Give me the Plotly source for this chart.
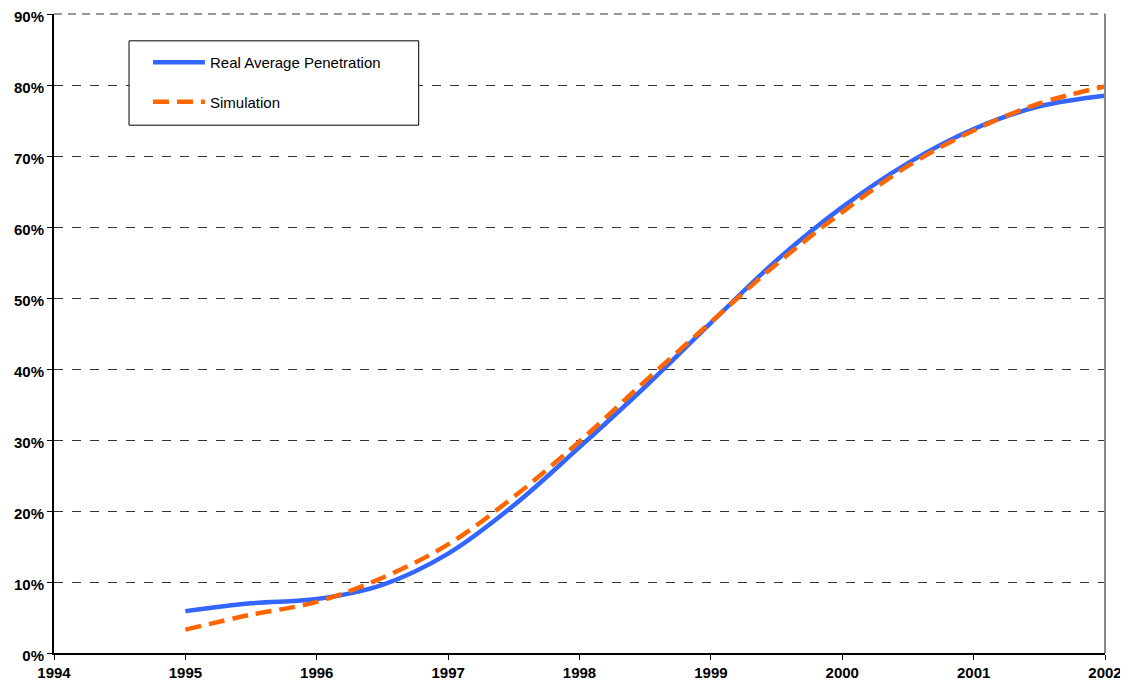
import plotly.graph_objects as go

years = [1995.0, 1995.5, 1996.0, 1996.5, 1997.0, 1997.5, 1998.0, 1998.5,
         1999.0, 1999.5, 2000.0, 2000.5, 2001.0, 2001.5, 2002.0]
real_avg = [5.9, 7.0, 7.6, 9.6, 14.0, 20.8, 29.0, 37.5,
            46.5, 55.3, 62.8, 69.0, 73.8, 77.0, 78.5]
simulation = [3.3, 5.4, 7.2, 10.6, 15.3, 22.0, 29.8, 38.3,
              46.6, 54.8, 62.1, 68.6, 73.6, 77.4, 79.8]

x_ticks = list(range(1994, 2003))
y_ticks = list(range(0, 91, 10))
y_tick_labels = [f"{v}%" for v in y_ticks]

FONT = "Liberation Sans, Arial, sans-serif"

fig = go.Figure()
fig.add_trace(go.Scatter(
    x=years, y=real_avg, name="Real Average Penetration", mode="lines",
    line=dict(color="#3366FF", width=4.5, shape="spline", smoothing=1.0),
    legendgroup="a"))
fig.add_trace(go.Scatter(
    x=years, y=simulation, name="Simulation", mode="lines",
    line=dict(color="#FF6600", width=4.5, shape="spline", smoothing=1.0, dash="16px,8px"),
    legendgroup="b"))

# page body has an 8px default margin, so the figure is sized/offset to compensate
fig.update_layout(
    width=1120, height=681,
    margin=dict(l=46, r=23, t=6, b=36, autoexpand=False),
    paper_bgcolor="white", plot_bgcolor="white",
    font=dict(family=FONT, color="black"),
    showlegend=True,
    legend=dict(
        x=0.0894, y=0.950, xanchor="left", yanchor="top",
        bgcolor="rgba(0,0,0,0)", borderwidth=0,
        font=dict(size=15, family=FONT),
        tracegroupgap=17, traceorder="grouped", itemwidth=52,
    ),
)
fig.update_xaxes(
    range=[1994, 2002], tickvals=x_ticks, ticktext=[str(v) for v in x_ticks],
    showgrid=False, zeroline=False, automargin=False, ticklabeloverflow="allow",
    showline=True, linecolor="black", linewidth=2,
    ticks="outside", ticklen=5, tickcolor="black",
    tickfont=dict(size=15, family=FONT, weight="bold"),
)
fig.update_yaxes(
    range=[0, 90], tickvals=y_ticks, ticktext=y_tick_labels,
    showgrid=True, gridcolor="#333333", griddash="dash", gridwidth=1,
    zeroline=False, automargin=False, ticklabeloverflow="allow",
    ticklabelshift=3,
    showline=True, linecolor="black", linewidth=2,
    ticks="outside", ticklen=5, tickcolor="black",
    tickfont=dict(size=15, family=FONT, weight="bold"),
)
# top gridline at 90% (gray dashed frame edge)
fig.add_shape(type="line", xref="paper", yref="paper", x0=0, x1=1, y0=1, y1=1,
              line=dict(color="#777777", width=1.5, dash="8px,6px"))
# right frame edge
fig.add_shape(type="line", xref="paper", yref="paper", x0=1, x1=1, y0=0, y1=1,
              line=dict(color="#888888", width=2))
# legend box
fig.add_shape(type="rect", xref="paper", yref="paper",
              x0=0.0714, x1=0.347, y0=0.826, y1=0.958,
              line=dict(color="black", width=1), fillcolor="white", layer="above")

fig.write_html("out.html")
